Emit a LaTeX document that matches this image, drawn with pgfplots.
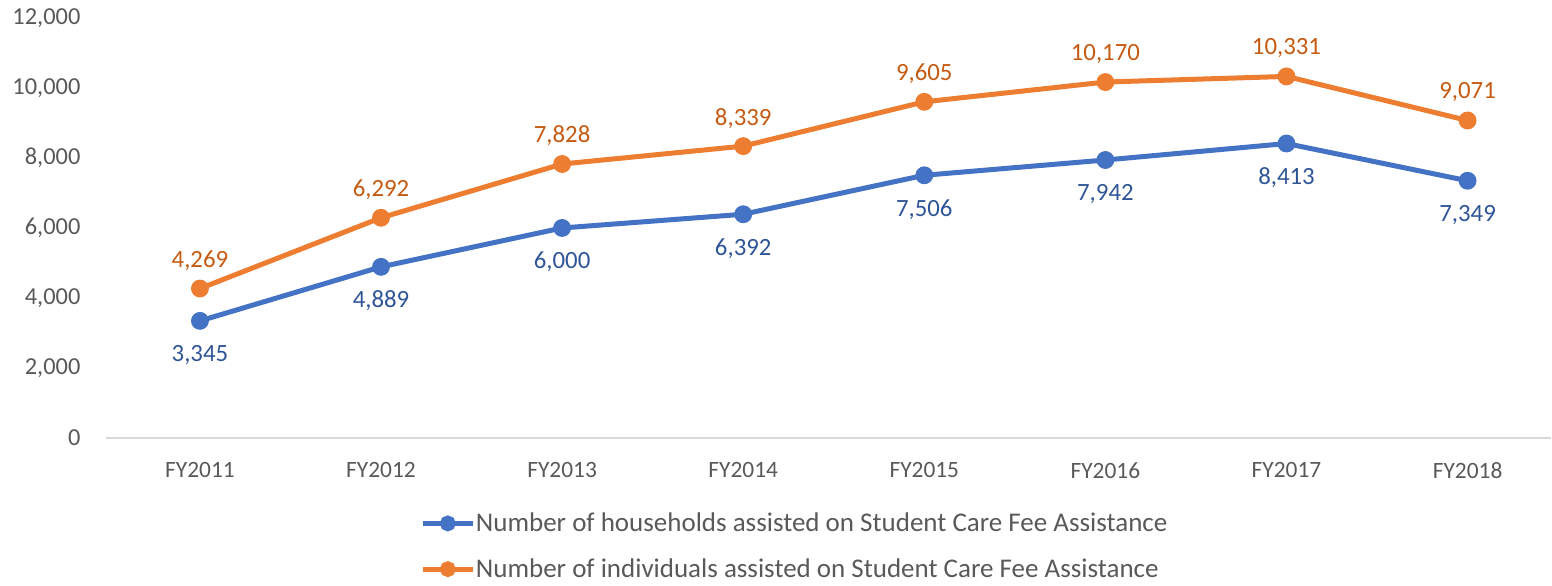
\documentclass[border=0pt]{standalone}
\usepackage{pgfplots}
\pgfplotsset{compat=1.18}
\usepackage{fontspec}
\setmainfont{Carlito}
\definecolor{cblue}{HTML}{4472C4}
\definecolor{corange}{HTML}{ED7D31}
\definecolor{lblue}{HTML}{2F5597}
\definecolor{lorange}{HTML}{C55A11}
\definecolor{tgray}{HTML}{595959}
\definecolor{agray}{HTML}{D9D9D9}
\begin{document}
\begin{tikzpicture}
\begin{axis}[
  scale only axis,
  width=722.7pt, height=210pt,
  xmin=-0.52, xmax=7.46,
  ymin=0, ymax=12000,
  ytick={0,2000,4000,6000,8000,10000,12000},
  xtick={0,...,7},
  xticklabels={FY2011,FY2012,FY2013,FY2014,FY2015,FY2016,FY2017,FY2018},
  axis lines=left,
  axis line style={-},
  x axis line style={draw=agray, line width=0.75pt},
  y axis line style={draw=none},
  major tick length=0pt,
  /pgf/number format/.cd, 1000 sep={,}, assume math mode=true,
  /pgfplots/.cd,
  scaled y ticks=false,
  tick label style={text=tgray},
  yticklabel style={font=\fontsize{12.2}{14}\selectfont, anchor=east, inner sep=0pt, xshift=-12.5pt},
  xticklabel style={font=\fontsize{11.7}{14}\selectfont, anchor=north, inner sep=0pt, yshift=-12pt},
  nodes near coords,
  every node near coord/.append style={font=\fontsize{12.4}{14}\selectfont, inner sep=0pt},
  legend style={draw=none, fill=none, at={(0.2174,-0.172)}, anchor=north west,
    font=\fontsize{13.5}{16}\selectfont, text=tgray, inner sep=0pt, row sep=10pt,
    nodes={inner xsep=0.3pt, inner ysep=1pt}},
  legend cell align=left,
  legend image code/.code={\draw[mark repeat=2,mark phase=2,mark size=2.7pt] plot coordinates {(0pt,0pt)(12.5pt,0pt)(25pt,0pt)};},
  clip=false,
]
\addplot[color=cblue, line width=2.5pt, mark=*, mark size=3.2pt,
  every node near coord/.append style={text=lblue, anchor=center, yshift=-17pt}]
  coordinates {(0,3345)(1,4889)(2,6000)(3,6392)(4,7506)(5,7942)(6,8413)(7,7349)};
\addlegendentry{Number of households assisted on Student Care Fee Assistance}
\addplot[color=corange, line width=2.5pt, mark=*, mark size=3.2pt,
  every node near coord/.append style={text=lorange, anchor=center, yshift=14pt}]
  coordinates {(0,4269)(1,6292)(2,7828)(3,8339)(4,9605)(5,10170)(6,10331)(7,9071)};
\addlegendentry{Number of individuals assisted on Student Care Fee Assistance}
\coordinate (bbl) at (rel axis cs:-0.0732,-0.3524);
\coordinate (btr) at (rel axis cs:1.0008,1.0429);
\end{axis}
\pgfresetboundingbox
\path[use as bounding box] (bbl) rectangle (btr);
\end{tikzpicture}
\end{document}
